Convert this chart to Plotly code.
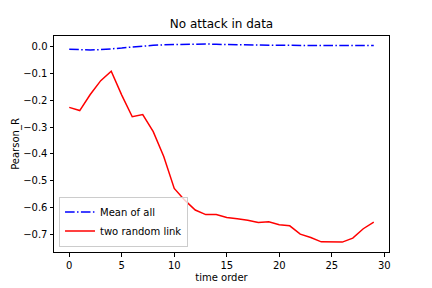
import plotly.graph_objects as go

time_order = list(range(30))
mean_of_all = [-0.009, -0.011, -0.011, -0.010, -0.008, -0.004, 0.000, 0.004, 0.006, 0.008,
               0.009, 0.010, 0.010, 0.011, 0.010, 0.009, 0.008, 0.008, 0.007, 0.006,
               0.006, 0.006, 0.006, 0.006, 0.006, 0.006, 0.006, 0.006, 0.005, 0.005]
two_random_link = [-0.226, -0.238, -0.178, -0.126, -0.091, -0.180, -0.261, -0.253, -0.317, -0.410,
                   -0.529, -0.573, -0.610, -0.627, -0.627, -0.638, -0.643, -0.648, -0.657, -0.654,
                   -0.665, -0.669, -0.700, -0.713, -0.729, -0.729, -0.730, -0.715, -0.680, -0.655]
x_ticks = [0, 5, 10, 15, 20, 25, 30]
y_ticks = [0.0, -0.1, -0.2, -0.3, -0.4, -0.5, -0.6, -0.7]

font_family = "DejaVu Sans"

fig = go.Figure()
fig.add_trace(go.Scatter(x=time_order, y=mean_of_all, mode="lines", name="Mean of all",
                         line=dict(color="#0000ff", width=1.5, dash="9.6px,2.4px,1.5px,2.4px")))
fig.add_trace(go.Scatter(x=time_order, y=two_random_link, mode="lines", name="two random link",
                         line=dict(color="#ff0000", width=1.5)))

axis_common = dict(showgrid=False, zeroline=False, showline=True, linecolor="black", linewidth=1,
                   mirror=True, ticks="outside", ticklen=3.5, tickwidth=1, tickcolor="black",
                   tickfont=dict(family=font_family, size=10, color="black"))

fig.update_layout(
    width=432, height=288,
    margin=dict(l=54, r=43, t=36, b=36),
    paper_bgcolor="white", plot_bgcolor="white",
    font=dict(family=font_family, size=10, color="black"),
    title=dict(text="No attack in data", x=0.5, xref="paper", y=1 - 24 / 288, yref="container",
               xanchor="center", yanchor="middle", font=dict(size=12, family=font_family, color="black")),
    xaxis=dict(range=[-1.45, 30.45], tickvals=x_ticks, automargin=False,
               title=dict(text="time order", standoff=4, font=dict(size=10, family=font_family)),
               **axis_common),
    yaxis=dict(range=[-0.767, 0.041], tickvals=y_ticks, tickformat=".1f", automargin=False,
               title=dict(text="Pearson_R", standoff=1, font=dict(size=10, family=font_family)),
               **axis_common),
    legend=dict(x=0.015, y=0.025, xanchor="left", yanchor="bottom", bgcolor="rgba(255,255,255,0.8)",
                bordercolor="#cccccc", borderwidth=1, font=dict(size=10, family=font_family),
                tracegroupgap=0, itemwidth=30),
    showlegend=True,
)

fig.write_html("out.html")
